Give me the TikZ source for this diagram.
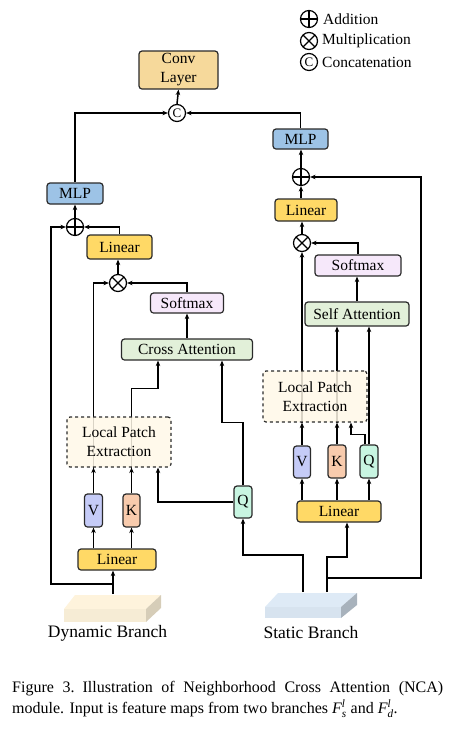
\documentclass[tikz,border=0pt]{standalone}
\usepackage{fontspec}
\setmainfont{Liberation Serif}
\usetikzlibrary{arrows.meta,calc}
\pgfdeclarelayer{bg}
\pgfsetlayers{bg,main}
\definecolor{convc}{HTML}{F6D99B}
\definecolor{mlpc}{HTML}{9DC3E6}
\definecolor{linc}{HTML}{FFD966}
\definecolor{smc}{HTML}{F6E8FA}
\definecolor{attc}{HTML}{E2F0D9}
\definecolor{lpc}{HTML}{FFF8E8}
\definecolor{vc}{HTML}{C5CBF7}
\definecolor{kc}{HTML}{F8CBAD}
\definecolor{qc}{HTML}{C8F5E1}
\definecolor{dync}{HTML}{FEF3DC}
\definecolor{dyns}{HTML}{D6CDB8}
\definecolor{stac}{HTML}{DEEAF6}
\definecolor{stas}{HTML}{A8B2BC}
\definecolor{bord}{HTML}{2A2A2A}
\begin{document}
\begin{tikzpicture}[x=1pt,y=-1pt,
  font=\fontsize{15.5}{19}\selectfont,
  box/.style={draw=bord, line width=1.2pt, rounded corners=3pt, inner sep=0pt, align=center},
  lpbox/.style={box, dashed, fill=lpc, fill opacity=0.85, text opacity=1},
  opc/.style={circle, draw=black, line width=1.2pt, minimum size=17pt, inner sep=0pt, fill=white},
  addop/.style={opc, path picture={\draw[line width=1.2pt] (path picture bounding box.north) -- (path picture bounding box.south) (path picture bounding box.west) -- (path picture bounding box.east);}},
  mulop/.style={opc, path picture={\draw[line width=1.2pt] (path picture bounding box.north west) -- (path picture bounding box.south east) (path picture bounding box.north east) -- (path picture bounding box.south west);}},
  catop/.style={opc, font=\fontsize{13}{13}\selectfont},
  arr/.style={line width=1.5pt, -{Stealth[length=5.5pt,width=4.5pt]}},
  ln/.style={line width=1.5pt},
  lbl/.style={inner sep=0pt},
]
\useasboundingbox (0,0) rectangle (448,732);

% legend
\node[addop] (lgA) at (309,19) {};
\node[lbl, anchor=west] (lgAt) at (323,19) {Addition};
\node[mulop] (lgM) at (309,41) {};
\node[lbl, anchor=west] (lgMt) at (322,41) {Multiplication};
\node[catop] (lgC) at (309,62) {C};
\node[lbl, anchor=west] (lgCt) at (322,62) {Concatenation};

% top
\node[box, fill=convc, minimum width=79pt, minimum height=38pt] (conv) at (178.5,70) {Conv\\Layer};
\node[catop] (cat) at (177,113) {C};

% right column
\node[box, fill=mlpc, minimum width=55pt, minimum height=20pt] (mlpR) at (300.5,139) {MLP};
\node[addop] (addR) at (301,177) {};
\node[box, fill=linc, minimum width=62pt, minimum height=22pt] (linR) at (306,210) {Linear};
\node[mulop] (mulR) at (302,243) {};
\node[box, fill=smc, minimum width=86pt, minimum height=21pt] (smR) at (358,265.5) {Softmax};
\node[box, fill=attc, minimum width=104pt, minimum height=24pt] (saR) at (357,314) {Self Attention};
\node[lpbox, minimum width=104pt, minimum height=51pt] (lpR) at (315,396.5) {Local Patch\\Extraction};
\node[box, fill=vc, minimum width=17pt, minimum height=32pt] (vR) at (302,462) {V};
\node[box, fill=kc, minimum width=18pt, minimum height=33pt] (kR) at (337,461.5) {K};
\node[box, fill=qc, minimum width=18pt, minimum height=33pt] (qR) at (369,461.5) {Q};
\node[box, fill=linc, minimum width=84pt, minimum height=21pt] (linR2) at (339,511.5) {Linear};

% left column
\node[box, fill=mlpc, minimum width=56pt, minimum height=21pt] (mlpL) at (75,193.5) {MLP};
\node[addop] (addL) at (75,227) {};
\node[box, fill=linc, minimum width=65pt, minimum height=24pt] (linL) at (119.5,247) {Linear};
\node[mulop] (mulL) at (118,283) {};
\node[box, fill=smc, minimum width=73pt, minimum height=20pt] (smL) at (187,303) {Softmax};
\node[box, fill=attc, minimum width=131pt, minimum height=21pt] (caL) at (187,349.5) {Cross Attention};
\node[lpbox, minimum width=104pt, minimum height=50pt] (lpL) at (119,442) {Local Patch\\Extraction};
\node[box, fill=vc, minimum width=18pt, minimum height=33pt] (vL) at (93.5,510.5) {V};
\node[box, fill=kc, minimum width=17pt, minimum height=33pt] (kL) at (131.5,510.5) {K};
\node[box, fill=qc, minimum width=18pt, minimum height=32pt] (qL) at (243,502) {Q};
\node[box, fill=linc, minimum width=78pt, minimum height=21pt] (linL2) at (117,559.5) {Linear};

% branches (slabs)
\fill[dync] (64,609) -- (75,595) -- (161,595) -- (146,609) -- cycle;
\fill[dync!97!black] (64,609) rectangle (146,622);
\fill[dyns] (146,609) -- (161,595) -- (161,608) -- (146,622) -- cycle;
\fill[stac] (265,607) -- (278,593) -- (357,593) -- (341,607) -- cycle;
\fill[stac!97!black] (265,607) rectangle (341,618);
\fill[stas] (341,607) -- (357,593) -- (357,605) -- (341,618) -- cycle;
\node[lbl, font=\fontsize{17.5}{20}\selectfont] (dynt) at (107.5,633) {Dynamic Branch};
\node[lbl, font=\fontsize{17.5}{20}\selectfont] (stat) at (311,633) {Static Branch};

% caption
\node[lbl, anchor=north west, text width=431pt, align=justify, font=\fontsize{16}{21}\selectfont] (cap) at (12,681) {Figure 3.\enspace Illustration of Neighborhood Cross Attention (NCA)\linebreak module. Input is feature maps from two branches $\mathit{F}_{\mathit{s}}^{\mathit{l}}$ and $\mathit{F}_{\mathit{d}}^{\mathit{l}}$.};

\coordinate (xq) at (351,0);
\coordinate (xr) at (421,0);
\coordinate (xl) at (51,0);
\coordinate (x158) at (158,0);
\coordinate (x222) at (222,0);
\coordinate (s1) at (303,592);
\coordinate (s2) at (327,592);
\coordinate (s3) at (327,578);
\coordinate (d1) at (113,594);
\coordinate (d2) at (113,584);

\begin{pgfonlayer}{bg}
% top
\draw[arr] (cat.north) -- (conv.south);
\draw[arr] (mlpL.north) |- (cat.west);
\draw[arr] (mlpR.north) |- (cat.east);
% right column
\draw[arr] (addR.north) -- (addR.north |- mlpR.south);
\draw[arr] (addR.south |- linR.north) -- (addR.south);
\draw[arr] (mulR.north) -- (mulR.north |- linR.south);
\draw[arr] (smR.north) |- (mulR.east);
\draw[arr] (saR.north) -- (saR.north |- smR.south);
\draw[arr] (vR.north |- lpR.north) -- (mulR.south);
\draw[ln] (vR.north |- lpR.south) -- (vR.north |- lpR.north);
\draw[arr] (vR.north) -- (vR.north |- lpR.south);
\draw[arr] (kR.north) -- (kR.north |- lpR.south);
\draw[arr] (kR.north |- lpR.south) -- (kR.north |- saR.south);
\draw[arr] (qR.north) -- (qR.north |- saR.south);
\draw[arr] ([xshift=-4pt]qR.north) -- ++(0,-10) -| (lpR.south -| xq);
\draw[arr] (vR.south |- linR2.north) -- (vR.south);
\draw[arr] (kR.south |- linR2.north) -- (kR.south);
\draw[arr] (qR.south |- linR2.north) -- (qR.south);
% static feeds
\draw[arr] (s1) -- ++(0,-37) -| (qL.south);
\draw[arr] (s2) -- ++(0,-35) -| ([xshift=8pt]linR2.south);
\draw[arr] (s3) -| (xr |- addR.east) -- (addR.east);
% dynamic feeds
\draw[arr] (d1) -- ([xshift=-4pt]linL2.south);
\draw[arr] (d2) -| (xl |- addL.west) -- (addL.west);
\draw[arr] (vL.south |- linL2.north) -- (vL.south);
\draw[arr] (kL.south |- linL2.north) -- (kL.south);
\draw[arr] (vL.north) -- (vL.north |- lpL.south);
\draw[arr] (kL.north) -- (kL.north |- lpL.south);
\draw[ln] (vL.north |- lpL.south) -- (vL.north |- lpL.north);
\draw[ln] (kL.north |- lpL.south) -- (kL.north |- lpL.north);
\draw[arr] (qL.west) -| (lpL.south -| x158);
\draw[arr] (qL.north) -- ++(0,-63) -| (caL.south -| x222);
\draw[arr] (kL.north |- lpL.north) -- ++(0,-28) -| (caL.south -| x158);
\draw[arr] (vL.north |- lpL.north) |- (mulL.west);
\draw[arr] (caL.north) -- (caL.north |- smL.south);
\draw[arr] (smL.north) |- (mulL.east);
\draw[arr] (mulL.north) -- (mulL.north |- linL.south);
\draw[arr] (linL.north) |- (addL.east);
\draw[arr] (addL.north) -- (addL.north |- mlpL.south);
\end{pgfonlayer}
\end{tikzpicture}
\end{document}
